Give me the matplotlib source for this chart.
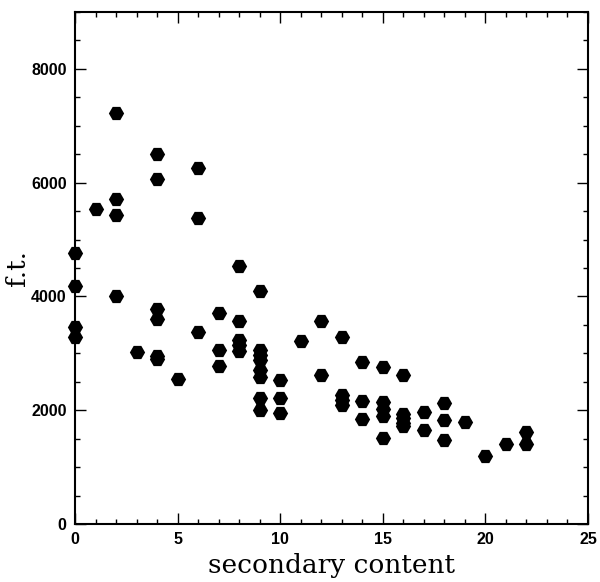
import numpy as np
from matplotlib import pyplot as plt
from matplotlib.ticker import MultipleLocator

# values, grouped by x (secondary content)
content = [0, 0, 0, 0,
           1,
           2, 2, 2, 2,
           3,
           4, 4, 4, 4, 4, 4,
           5,
           6, 6, 6,
           7, 7, 7,
           8, 8, 8, 8, 8,
           9, 9, 9, 9, 9, 9, 9, 9,
           10, 10, 10,
           11,
           12, 12,
           13, 13, 13, 13,
           14, 14, 14,
           15, 15, 15, 15, 15,
           16, 16, 16, 16, 16,
           17, 17,
           18, 18, 18,
           19,
           20,
           21,
           22, 22]
ft = [4770, 4180, 3470, 3280,
      5530,
      7220, 5720, 5430, 4000,
      3030,
      6510, 6060, 3780, 3600, 2950, 2900,
      2540,
      6260, 5380, 3370,
      3710, 3060, 2780,
      4540, 3570, 3230, 3145, 3040,
      4100, 3060, 2970, 2890, 2710, 2590, 2220, 2000,
      2530, 2220, 1955,
      3225,
      3570, 2610,
      3290, 2265, 2180, 2090,
      2850, 2165, 1840,
      2765, 2150, 2020, 1900, 1506,
      2618, 1940, 1860, 1780, 1715,
      1974, 1660,
      2120, 1828, 1476,
      1798,
      1195,
      1400,
      1622, 1400]


def main():
    fig = plt.figure(figsize=(6.0, 5.82), dpi=100)
    ax = fig.add_axes([0.125, 0.0997, 0.855, 0.8797])

    ax.plot(content, ft, linestyle='none', marker='H', markersize=11,
            markeredgewidth=0, color='black', clip_on=False, zorder=5)

    ax.set_xlim(0, 25)
    ax.set_ylim(0, 9000)
    ax.xaxis.set_major_locator(MultipleLocator(5))
    ax.xaxis.set_minor_locator(MultipleLocator(1))
    ax.yaxis.set_major_locator(MultipleLocator(2000))
    ax.yaxis.set_minor_locator(MultipleLocator(500))

    for side in ax.spines.values():
        side.set_linewidth(1.5)
    ax.tick_params(which='both', direction='in', top=True, right=True, width=1.0)
    ax.tick_params(which='major', length=8, pad=6)
    ax.tick_params(which='minor', length=3.8)
    for lab in ax.get_xticklabels() + ax.get_yticklabels():
        lab.set_fontfamily('Liberation Sans')
        lab.set_fontweight('bold')
        lab.set_fontsize(11.5)

    ax.set_xlabel('secondary content', family='DejaVu Serif', fontsize=19, labelpad=4)
    ax.set_ylabel('f.t.', family='DejaVu Serif', fontsize=19, labelpad=1)

    fig.savefig('out.png', dpi=100)


if __name__ == "__main__":
    main()
